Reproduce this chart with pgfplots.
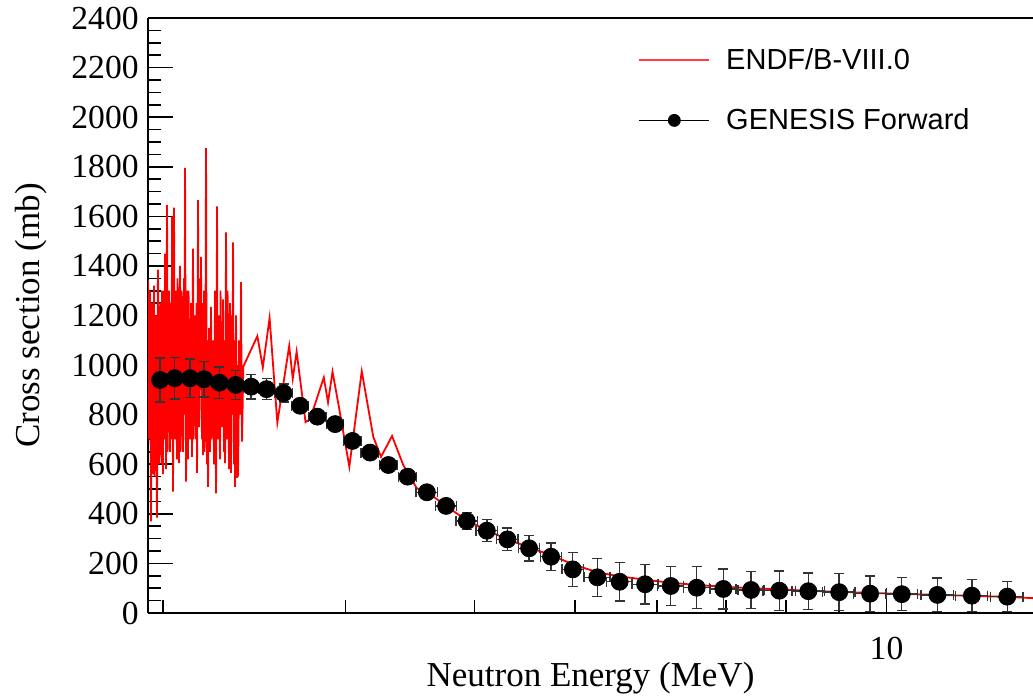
\documentclass[border=0pt]{standalone}
\usepackage{pgfplots}
\pgfplotsset{compat=1.18}
\usepackage{pgfplotstable}
\usepackage{fontspec}
\setmainfont{Liberation Serif}
\newfontfamily\legendfont{Liberation Sans}

\pgfplotstableread{
x y
1.9300 1340
1.9344 1340
1.9366 900
1.9387 700
1.9409 1150
1.9430 1300
1.9452 800
1.9473 370
1.9495 1000
1.9517 1250
1.9538 1100
1.9560 560
1.9582 900
1.9604 1320
1.9626 550
1.9647 650
1.9669 1050
1.9691 1200
1.9713 700
1.9735 385
1.9757 950
1.9779 1385
1.9801 1200
1.9823 600
1.9845 850
1.9867 1150
1.9889 1250
1.9911 720
1.9934 600
1.9956 1300
1.9978 900
2.0000 560
2.0022 1300
2.0045 1200
2.0067 700
2.0089 1450
2.0112 1000
2.0134 580
2.0157 1200
2.0179 1645
2.0202 650
2.0224 800
2.0247 1100
2.0269 1300
2.0292 900
2.0314 650
2.0337 1250
2.0359 1150
2.0382 700
2.0404 1600
2.0427 1000
2.0450 490
2.0473 1100
2.0495 1635
2.0518 900
2.0541 700
2.0564 1300
2.0587 1250
2.0610 800
2.0633 620
2.0656 1350
2.0679 1150
2.0702 900
2.0725 605
2.0748 1100
2.0771 1400
2.0794 650
2.0817 750
2.0841 1300
2.0864 1200
2.0887 900
2.0910 650
2.0934 1100
2.0957 1350
2.0980 800
2.1003 1795
2.1027 1100
2.1050 530
2.1074 900
2.1097 1300
2.1121 750
2.1144 620
2.1168 1300
2.1191 1100
2.1215 850
2.1238 700
2.1262 1050
2.1286 1250
2.1310 900
2.1333 630
2.1357 1150
2.1380 1470
2.1404 700
2.1428 800
2.1452 1200
2.1476 1150
2.1500 900
2.1523 700
2.1547 1250
2.1571 565
2.1595 1000
2.1619 1665
2.1644 800
2.1668 750
2.1692 1350
2.1716 1200
2.1740 900
2.1764 1435
2.1789 800
2.1813 700
2.1837 1250
2.1861 637
2.1886 1000
2.1910 1300
2.1935 650
2.1959 850
2.1984 1200
2.2008 1875
2.2033 900
2.2057 600
2.2082 1100
2.2106 509
2.2131 900
2.2155 1150
2.2180 700
2.2204 650
2.2229 950
2.2254 1235
2.2279 700
2.2303 800
2.2328 1050
2.2353 1100
2.2378 850
2.2403 600
2.2428 950
2.2453 1300
2.2478 800
2.2503 483
2.2528 1000
2.2553 1640
2.2578 850
2.2603 700
2.2628 1050
2.2653 1200
2.2679 750
2.2704 620
2.2729 1300
2.2754 1100
2.2780 800
2.2805 750
2.2831 900
2.2856 1265
2.2882 800
2.2907 650
2.2933 1100
2.2958 605
2.2984 1000
2.3009 1535
2.3035 900
2.3060 700
2.3086 1300
2.3111 1150
2.3137 800
2.3163 580
2.3189 1000
2.3215 1250
2.3241 900
2.3266 565
2.3292 1200
2.3318 1100
2.3344 800
2.3370 1495
2.3396 900
2.3422 600
2.3448 1100
2.3474 509
2.3500 800
2.3526 1200
2.3553 900
2.3579 545
2.3605 1000
2.3631 550
2.3658 750
2.3684 1100
2.3711 900
2.3737 800
2.3764 1000
2.3790 1335
2.3817 900
2.3843 691
2.391 994
2.467 1117
2.497 990
2.535 1190
2.579 768
2.648 1077
2.669 945
2.692 1054
2.746 770
2.774 782
2.860 950
2.887 850
2.916 973
2.958 830
3.027 590
3.112 975
3.193 710
3.248 630
3.329 714
3.413 597
3.517 503
3.60 488
3.75 433
3.93 374
4.11 333
4.30 298
4.52 264
4.74 234
4.98 196
5.26 164
5.52 148
5.85 134
6.19 122
6.56 113
6.96 106
7.40 100
7.88 95
8.40 90
9.00 85
9.64 81
10.35 77
11.20 73
12.09 69
13.08 65
14.00 59
}\endfdata

\pgfplotstableread{
x y ex ey
1.987 940 0.034 89
2.053 947 0.035 84
2.124 947 0.036 77
2.191 943 0.037 71
2.267 929 0.039 64
2.351 920 0.040 58
2.433 913 0.041 50
2.518 903 0.043 42
2.615 887 0.051 36
2.713 836 0.053 26
2.819 792 0.055 18
2.933 762 0.057 14
3.048 694 0.059 12
3.170 647 0.062 12
3.302 597 0.064 12
3.446 550 0.067 14
3.597 487 0.085 22
3.754 432 0.089 27
3.931 371 0.093 35
4.110 332 0.097 44
4.303 297 0.102 46
4.515 261 0.107 52
4.741 227 0.112 55
4.976 176 0.117 69
5.255 144 0.152 77
5.523 126 0.160 78
5.845 116 0.170 79
6.188 109 0.179 79
6.556 102 0.190 85
6.956 97 0.202 81
7.399 93 0.215 74
7.879 90 0.284 79
8.404 88 0.303 74
9.000 84 0.324 75
9.641 78 0.347 72
10.345 76 0.372 67
11.198 73 0.403 68
12.090 70 0.435 64
13.08 66 0.471 61
}\genesis

\begin{document}
\begin{tikzpicture}
\begin{axis}[name=ax, scale only axis, width=442.5pt, height=297.5pt,
  xmode=log, xmin=1.9344, xmax=13.852, ymin=0, ymax=2400,
  clip mode=individual,
  axis lines=left, axis line style={-, line width=0.9pt},
  tick align=inside,
  xtick={10}, xticklabels={10}, minor xtick={2,3,4,5,6,7,8,9},
  ytick={0,200,...,2400}, minor y tick num=3,
  major tick length=12.5pt, minor tick length=6.5pt,
  every tick/.style={black, line width=0.8pt},
  ticklabel style={font=\fontsize{16.8}{20}\selectfont},
  /pgf/number format/assume math mode=true,
  yticklabel style={/pgf/number format/1000 sep={}, inner sep=0pt, xshift=-4.5pt},
  xticklabel style={inner sep=0pt, yshift=-12pt},
  xlabel={Neutron Energy (MeV)}, ylabel={Cross section (mb)},
  label style={font=\fontsize{17.5}{21}\selectfont},
  xlabel style={at={(axis description cs:0.5,0)}, anchor=north, yshift=-24.5pt, inner sep=0pt},
  ylabel style={at={(axis description cs:-0.114,0.5)}, anchor=south, inner sep=0pt},
  legend style={draw=none, fill=none, at={(0.5537,0.9496)}, anchor=north west,
    inner sep=0pt, row sep=18pt, font=\legendfont\fontsize{14.5}{17}\selectfont,
    nodes={inner sep=0pt}},
  legend cell align=left,
  /tikz/every odd column/.append style={column sep=8pt},
]
\addplot[red, line width=0.9pt, mark=none,
  legend image code/.code={\draw[red!75, line width=0.9pt] (0pt,0pt) -- (35pt,0pt);}]
  table[x=x, y=y] {\endfdata};
\addlegendentry{ENDF/B-VIII.0}
\addplot[only marks, black, mark=*, mark size=4.25pt, mark options={fill=black},
  legend image code/.code={\draw[black, line width=0.7pt] (0pt,0pt) -- (35pt,0pt);
     \draw[black, fill=black] plot[mark=*, mark size=3pt] coordinates {(17.5pt,0pt)};},
  error bars/.cd, x dir=both, x explicit, y dir=both, y explicit,
  error mark=-,
  error bar style={line width=0.7pt, black!80},
  error mark options={rotate=90, line width=0.7pt, mark size=2.5pt, black!80}]
  table[x=x, y=y, x error=ex, y error=ey] {\genesis};
\addlegendentry{GENESIS Forward}
\draw[line width=0.9pt] (rel axis cs:0,1) -- (rel axis cs:1,1);
\end{axis}
\pgfresetboundingbox
\path ([xshift=-74pt, yshift=-42pt]ax.south west) rectangle ([yshift=9pt]ax.north east);
\end{tikzpicture}
\end{document}
